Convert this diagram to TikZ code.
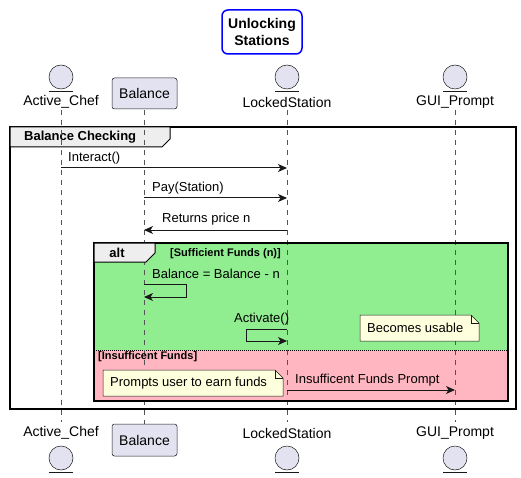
\documentclass[tikz,border=0pt]{standalone}
\usepackage{fontspec}
\setmainfont{Liberation Sans}
\usetikzlibrary{arrows.meta}
\definecolor{partfill}{HTML}{E2E2F0}
\definecolor{partdraw}{HTML}{181818}
\definecolor{okgreen}{HTML}{90EE90}
\definecolor{nopink}{HTML}{FFB6C1}
\definecolor{tabfill}{HTML}{EEEEEE}
\definecolor{notefill}{HTML}{FEFFDD}
\definecolor{lifegray}{HTML}{555555}
\begin{document}
\begin{tikzpicture}[x=1pt,y=-1pt,
  entcirc/.style={circle,draw=partdraw,fill=partfill,line width=0.5pt,minimum size=24pt,inner sep=0pt},
  partbox/.style={draw=partdraw,fill=partfill,line width=0.5pt,rounded corners=2.5pt},
  pname/.style={font=\fontsize{14}{16}\selectfont,inner sep=0pt},
  msgtxt/.style={font=\fontsize{13}{15}\selectfont,inner sep=0pt,anchor=west},
  lifeline/.style={draw=lifegray,line width=0.5pt,dash pattern=on 5pt off 5pt},
  msg/.style={draw=partdraw,line width=1pt,-{Stealth[length=9pt,width=8pt,inset=2.5pt]}},
  notebox/.style={draw=partdraw,fill=notefill,line width=0.5pt},
  guard/.style={font=\bfseries\fontsize{11}{13}\selectfont,inner sep=0pt,anchor=west}]
\useasboundingbox (0,0) rectangle (521,478);
% title
\node[draw=blue,line width=1.5pt,rounded corners=6pt,minimum width=80pt,minimum height=44pt,align=center,inner sep=0pt,font=\bfseries\fontsize{14}{17}\selectfont] (title) at (262,32) {Unlocking\\Stations};
% outer frame
\draw[line width=1.5pt,fill=white] (10,127) rectangle (516,409);
\draw[line width=1pt,fill=tabfill] (10,127) -- (170,127) -- (170,139) -- (162,147) -- (10,147) -- cycle;
\node[font=\bfseries\fontsize{13}{15}\selectfont,anchor=west,inner sep=0pt] (bctitle) at (24,137) {Balance Checking};
% alt fills
\fill[okgreen] (94,243) rectangle (508,350);
\fill[nopink] (94,350) rectangle (508,401);
\draw[line width=0.5pt,dash pattern=on 1pt off 1pt] (94,350) -- (508,350);
% lifelines
\coordinate (Atop) at (61,110); \coordinate (Abot) at (61,422);
\coordinate (Btop) at (144,110); \coordinate (Bbot) at (144,424);
\coordinate (Ltop) at (287,110); \coordinate (Lbot) at (287,422);
\coordinate (Gtop) at (455,110); \coordinate (Gbot) at (455,422);
\draw[lifeline] (Atop) -- (Abot);
\draw[lifeline] (Btop) -- (Bbot);
\draw[lifeline] (Ltop) -- (Lbot);
\draw[lifeline] (Gtop) -- (Gbot);
% alt frame border and tab
\draw[line width=1.5pt] (94,243) rectangle (508,401);
\draw[line width=1pt,fill=tabfill] (94,243) -- (155,243) -- (155,253) -- (146,262) -- (94,262) -- cycle;
\node[font=\bfseries\fontsize{13}{15}\selectfont,inner sep=0pt] (alttxt) at (117,253) {alt};
\node[guard] (g1) at (170,254) {[Sufficient Funds (n)]};
\node[guard] (g2) at (98,357) {[Insufficent Funds]};
% top participants
\node[entcirc] (Ac) at (61,77) {};
\draw[partdraw,line width=0.5pt] (49,91) -- (73,91);
\node[pname] (An) at (61,102) {Active\_Chef};
\node[partbox,minimum width=65pt,minimum height=31pt,inner sep=0pt,font=\fontsize{14}{16}\selectfont] (Bt) at (144.5,93.5) {Balance};
\node[entcirc] (Lc) at (287,77) {};
\draw[partdraw,line width=0.5pt] (275,91) -- (299,91);
\node[pname] (Ln) at (287,102) {LockedStation};
\node[entcirc] (Gc) at (455,77) {};
\draw[partdraw,line width=0.5pt] (443,91) -- (467,91);
\node[pname] (Gn) at (455,102) {GUI\_Prompt};
% bottom participants
\node[pname] (An2) at (61,433) {Active\_Chef};
\node[entcirc] (Ac2) at (61,458) {};
\draw[partdraw,line width=0.5pt] (49,472) -- (73,472);
\node[partbox,minimum width=65pt,minimum height=32pt,inner sep=0pt,font=\fontsize{14}{16}\selectfont] (Bb) at (144.5,440) {Balance};
\node[pname] (Ln2) at (287,433) {LockedStation};
\node[entcirc] (Lc2) at (287,458) {};
\draw[partdraw,line width=0.5pt] (275,472) -- (299,472);
\node[pname] (Gn2) at (455,433) {GUI\_Prompt};
\node[entcirc] (Gc2) at (455,458) {};
\draw[partdraw,line width=0.5pt] (443,472) -- (467,472);
% messages
\coordinate (m1a) at (61,168); \coordinate (m1b) at (287,168);
\draw[msg] (m1a) -- (m1b);
\node[msgtxt] (t1) at (68,158) {Interact()};
\coordinate (m2a) at (144,198); \coordinate (m2b) at (287,198);
\draw[msg] (m2a) -- (m2b);
\node[msgtxt] (t2) at (152,188) {Pay(Station)};
\coordinate (m3a) at (287,230); \coordinate (m3b) at (144,230);
\draw[msg] (m3a) -- (m3b);
\node[msgtxt] (t3) at (162,219) {Returns price n};
% self message balance
\coordinate (s1a) at (144,284); \coordinate (s1b) at (186,284);
\coordinate (s1c) at (186,297); \coordinate (s1d) at (144,297);
\draw[msg] (s1a) -- (s1b) -- (s1c) -- (s1d);
\node[msgtxt] (t4) at (152,274) {Balance = Balance - n};
% activate
\coordinate (s2a) at (287,329); \coordinate (s2b) at (246,329);
\coordinate (s2c) at (246,341); \coordinate (s2d) at (287,341);
\draw[msg] (s2a) -- (s2b) -- (s2c) -- (s2d);
\node[msgtxt] (t5) at (234,319) {Activate()};
% note becomes usable
\draw[notebox] (360,315) -- (471,315) -- (479,323) -- (479,341) -- (360,341) -- cycle;
\draw[partdraw,line width=0.5pt] (471,315) -- (471,323) -- (479,323);
\node[msgtxt] (n1) at (367,328) {Becomes usable};
% insufficient
\draw[notebox] (103,370) -- (275,370) -- (283,378) -- (283,396) -- (103,396) -- cycle;
\draw[partdraw,line width=0.5pt] (275,370) -- (275,378) -- (283,378);
\node[msgtxt] (n2) at (110,383) {Prompts user to earn funds};
\coordinate (m6a) at (287,390); \coordinate (m6b) at (455,390);
\draw[msg] (m6a) -- (m6b);
\node[msgtxt] (t6) at (295,380) {Insufficent Funds Prompt};
\end{tikzpicture}
\end{document}
